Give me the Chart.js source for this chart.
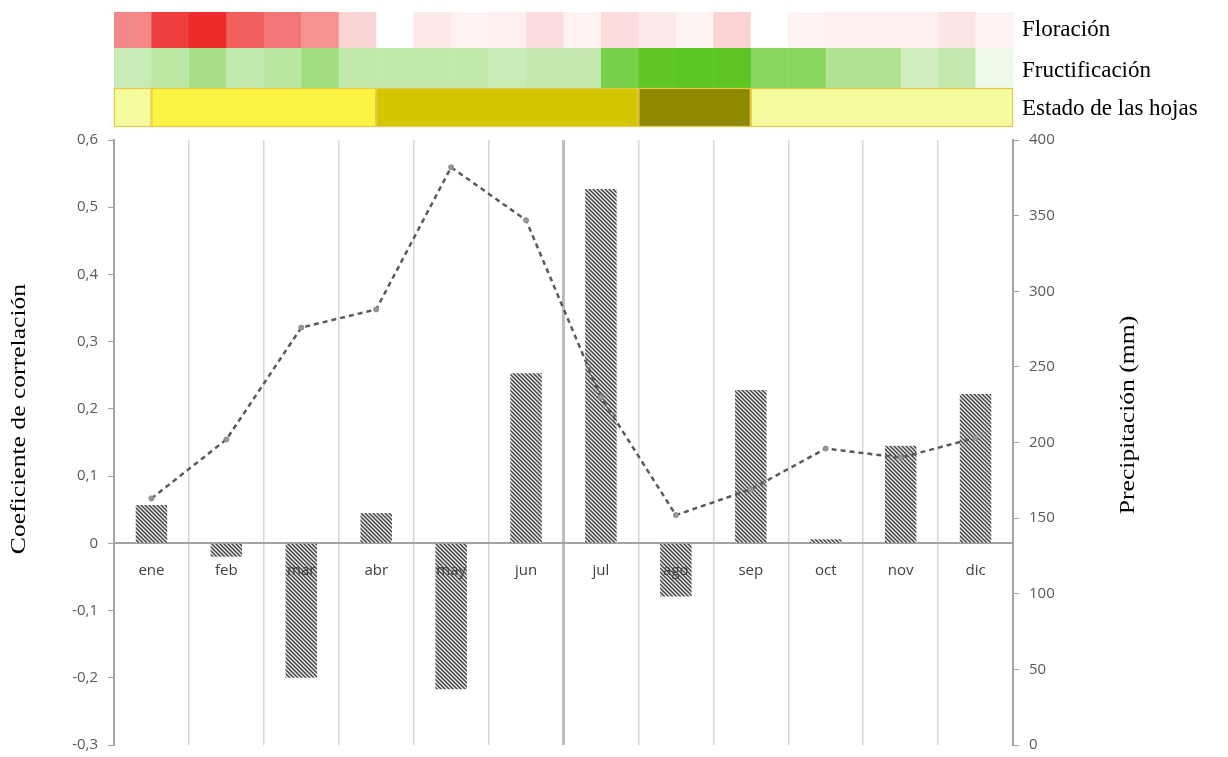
<!DOCTYPE html>
<html>
<head>
<meta charset="utf-8">
<script src="https://cdn.jsdelivr.net/npm/chart.js@4.4.1/dist/chart.umd.min.js"></script>
<style>
  html, body { margin: 0; padding: 0; background: #fff; }
  canvas { display: block; }
</style>
</head>
<body>
<canvas id="chart" width="1228" height="757"></canvas>
<script>
// months on the x axis
const months = ["ene", "feb", "mar", "abr", "may", "jun", "jul", "ago", "sep", "oct", "nov", "dic"];

// correlation coefficient per month (bars, left axis)
const correlation = [0.057, -0.02, -0.2, 0.045, -0.217, 0.253, 0.527, -0.079, 0.228, 0.006, 0.145, 0.222];

// monthly precipitation in mm (dashed line, right axis)
const precipitation = [163, 202, 276, 288, 382, 347, 230, 152, 169, 196, 190, 203];

// phenology per half month (24 cells): intensity 0..1
const flowering = [0.55, 0.88, 0.97, 0.73, 0.63, 0.5, 0.19, 0, 0.11, 0.06, 0.07, 0.16,
                   0.06, 0.16, 0.1, 0.05, 0.2, 0, 0.06, 0.07, 0.07, 0.07, 0.12, 0.06];
const fruiting = [0.33, 0.4, 0.52, 0.36, 0.42, 0.57, 0.37, 0.37, 0.37, 0.37, 0.33, 0.35,
                  0.35, 0.8, 0.95, 0.98, 0.97, 0.72, 0.72, 0.47, 0.47, 0.28, 0.35, 0.1];
// leaf state per half month: 0 light, 1 yellow, 2 olive, 3 dark
const leafState = [0, 1, 1, 1, 1, 1, 1, 2, 2, 2, 2, 2, 2, 2, 3, 3, 3, 0, 0, 0, 0, 0, 0, 0];

const rowLabels = ["Floración", "Fructificación", "Estado de las hojas"];

const leafColors = ["#f5fb9f", "#fcf444", "#d3c800", "#8d8900"];

function mix(to, v) {
  const r = Math.round(255 + (to[0] - 255) * v);
  const g = Math.round(255 + (to[1] - 255) * v);
  const b = Math.round(255 + (to[2] - 255) * v);
  return `rgb(${r},${g},${b})`;
}

// hatched fill for the bars
function hatch() {
  const c = document.createElement("canvas");
  c.width = 4; c.height = 4;
  const g = c.getContext("2d");
  g.fillStyle = "#eeeeee";
  g.fillRect(0, 0, 4, 4);
  g.strokeStyle = "#444";
  g.lineWidth = 1.5;
  g.beginPath();
  g.moveTo(-1, -1); g.lineTo(5, 5);
  g.moveTo(-1, 3); g.lineTo(1, 5);
  g.moveTo(3, -1); g.lineTo(5, 1);
  g.stroke();
  return g.createPattern(c, "repeat");
}

// y axes: fixed width, and no extra room for the end tick labels
const fitY = (w) => (s) => {
  s.width = w;
  s.paddingTop = 0;
  s.paddingBottom = 0;
};

const ctx = document.getElementById("chart").getContext("2d");

const phenologyStrips = {
  id: "phenologyStrips",
  afterDraw(chart) {
    const g = chart.ctx;
    const x = chart.scales.x;
    const rows = [[12, 48], [48, 88], [88, 127]];
    const labelY = [30, 71, 109];
    const cellLeft = (k) => x.getPixelForValue(k / 2 - 0.5);
    g.save();
    // flowering & fruiting heat rows
    for (let k = 0; k < 24; k++) {
      const l = cellLeft(k), r = cellLeft(k + 1);
      g.fillStyle = mix([236, 36, 36], flowering[k]);
      g.fillRect(l, rows[0][0], r - l + 0.5, rows[0][1] - rows[0][0]);
      g.fillStyle = mix([88, 196, 30], fruiting[k]);
      g.fillRect(l, rows[1][0], r - l + 0.5, rows[1][1] - rows[1][0]);
    }
    // leaf state as merged runs
    let start = 0;
    for (let k = 1; k <= 24; k++) {
      if (k === 24 || leafState[k] !== leafState[start]) {
        const l = cellLeft(start), r = cellLeft(k);
        g.fillStyle = leafColors[leafState[start]];
        g.fillRect(l, rows[2][0], r - l, rows[2][1] - rows[2][0]);
        g.strokeStyle = "#e9c848";
        g.lineWidth = 1.2;
        g.strokeRect(l + 0.5, rows[2][0] + 0.5, r - l - 1, rows[2][1] - rows[2][0] - 1);
        start = k;
      }
    }
    // row labels
    g.fillStyle = "#000";
    g.font = "23px 'Liberation Serif'";
    g.textBaseline = "middle";
    g.textAlign = "left";
    rowLabels.forEach((t, i) => g.fillText(t, x.right + 9, labelY[i]));
    // axis titles, both reading bottom to top
    g.font = "21px 'Liberation Serif'";
    g.textAlign = "center";
    g.translate(19, 419);
    g.rotate(-Math.PI / 2);
    g.scale(1.22, 1);
    g.fillText("Coeficiente de correlación", 0, 0);
    g.setTransform(1, 0, 0, 1, 0, 0);
    g.translate(1128, 415);
    g.rotate(-Math.PI / 2);
    g.scale(1.22, 1);
    g.fillText("Precipitación (mm)", 0, 0);
    g.restore();
  }
};

const tickFont = { family: "'Open Sans'", size: 15 };

new Chart(ctx, {
  type: "bar",
  data: {
    labels: months,
    datasets: [
      {
        type: "line",
        label: "Precipitación",
        data: precipitation,
        yAxisID: "y1",
        borderColor: "#5a5a5a",
        borderWidth: 2.5,
        borderDash: [5, 4],
        pointRadius: 2.5,
        pointBackgroundColor: "#999",
        pointBorderColor: "#888",
        pointBorderWidth: 1,
        tension: 0,
        order: 0
      },
      {
        type: "bar",
        label: "Correlación",
        data: correlation,
        yAxisID: "y",
        backgroundColor: hatch(),
        borderWidth: 0,
        barPercentage: 0.42,
        categoryPercentage: 1,
        order: 1
      }
    ]
  },
  options: {
    responsive: false,
    animation: false,
    devicePixelRatio: 1,
    layout: { padding: { top: 140, bottom: 12, left: 0, right: 0 } },
    plugins: { legend: { display: false }, tooltip: { enabled: false } },
    scales: {
      x: {
        position: { y: 0 },
        offset: true,
        grid: {
          offset: true,
          drawTicks: false,
          color: (c) => (c.index === 6 ? "#bdbdbd" : "#d6d6d6"),
          lineWidth: (c) => (c.index === 6 ? 3 : 1.5)
        },
        border: { color: "#a3a3a3", width: 2 },
        // month names sit on top of the negative bars
        ticks: { z: 1, color: "#404040", font: { family: "'Open Sans'", size: 15 }, padding: 18 }
      },
      y: {
        position: "left",
        min: -0.3,
        max: 0.6,
        afterFit: fitY(114),
        border: { color: "#a3a3a3", width: 2 },
        grid: { drawOnChartArea: false, tickLength: 6, color: "#a3a3a3" },
        ticks: {
          stepSize: 0.1,
          color: "#595959",
          font: tickFont,
          padding: 10,
          callback: (v) => (Math.abs(v) < 1e-9 ? "0" : Number(v).toFixed(1).replace(".", ","))
        }
      },
      y1: {
        position: "right",
        min: 0,
        max: 400,
        afterFit: fitY(215),
        border: { color: "#a3a3a3", width: 2 },
        grid: { drawOnChartArea: false, tickLength: 6, color: "#a3a3a3" },
        ticks: { stepSize: 50, color: "#595959", font: tickFont, padding: 10 }
      }
    }
  },
  plugins: [phenologyStrips]
});
</script>
</body>
</html>
